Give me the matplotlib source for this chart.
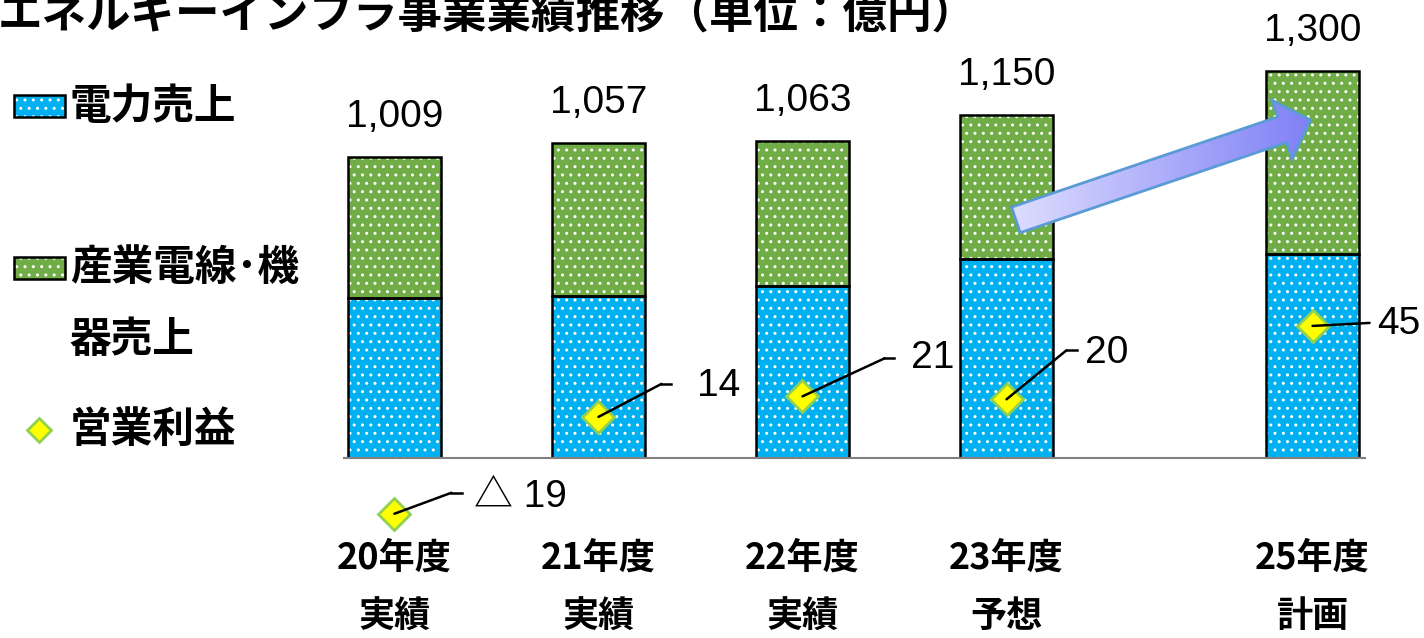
import numpy as np
import matplotlib.pyplot as plt
from matplotlib.patches import Polygon, Rectangle
from matplotlib.colors import LinearSegmentedColormap

plt.rcParams['font.family'] = ['Liberation Sans', 'DejaVu Sans']
JP = ['Noto Sans CJK JP', 'DejaVu Sans']

# 年度別データ（単位：億円）
years = ['20年度', '21年度', '22年度', '23年度', '25年度']
kinds = ['実績', '実績', '実績', '予想', '計画']
x = [0, 1, 2, 3, 4.5]
power_sales = [537, 544, 577, 668, 685]          # 電力売上
cable_sales = [472, 513, 486, 482, 615]          # 産業電線・機器売上
op_profit = [-19, 14, 21, 20, 45]                # 営業利益

totals = [p + c for p, c in zip(power_sales, cable_sales)]

BLUE = '#00B0F0'
GREEN = '#70AD47'
W, H = 1424, 638

fig = plt.figure(figsize=(W / 100, H / 100), dpi=100)
ax = fig.add_axes([344 / W, 1 - 458 / H, 1021 / W, 458 / H])
ax.set_xlim(-0.247, 4.757)
ax.set_ylim(0, 458 / 0.298)

bw = 0.455
# 塗り＋白い点模様
ax.bar(x, power_sales, bw, color=BLUE, edgecolor='white', hatch='..', linewidth=0)
ax.bar(x, cable_sales, bw, bottom=power_sales, color=GREEN, edgecolor='white',
       hatch='..', linewidth=0)
# 黒枠
ax.bar(x, power_sales, bw, fill=False, edgecolor='black', linewidth=1.8)
ax.bar(x, cable_sales, bw, bottom=power_sales, fill=False, edgecolor='black', linewidth=1.8)

for xi, t in zip(x, totals):
    ax.annotate(f'{t:,}', (xi, t), xytext=(0, 40), textcoords='offset pixels',
                ha='center', va='center', fontsize=28)

for s in ['top', 'left', 'right']:
    ax.spines[s].set_visible(False)
ax.spines['bottom'].set_color('#808080')
ax.spines['bottom'].set_linewidth(1.5)
ax.set_xticks([])
ax.set_yticks([])

for xi, yr, kd in zip(x, years, kinds):
    ax.text(xi, -0.218, yr, transform=ax.get_xaxis_transform(), ha='center', va='center',
            fontsize=26, fontweight='bold', family=JP)
    ax.text(xi, -0.347, kd, transform=ax.get_xaxis_transform(), ha='center', va='center',
            fontsize=26, fontweight='bold', family=JP)

# 営業利益（右軸）
ax2 = ax.twinx()
ax2.set_ylim(0, 458 / 2.935)
ax2.axis('off')
ax2.plot(x, op_profit, 'D', ms=16, mfc='#FFFF00', mec='#92D050', mew=2,
         clip_on=False, zorder=3)

# 引き出し線のオフセット（px）: 折れ点, 水平線の終点, 文字位置
leaders = [((57, 21), 68, (80, 17)),
           ((63, 33), 73, (99, 31)),
           ((82, 38), 92, (109, 38)),
           ((60, 49), 70, (78, 46)),
           ((57, 3), 57, (65, 2))]
for xi, v, (elbow, hend, tpos) in zip(x, op_profit, leaders):
    ax2.annotate('', (xi, v), xytext=elbow, textcoords='offset pixels',
                 annotation_clip=False,
                 arrowprops=dict(arrowstyle='-', color='black', lw=1.8,
                                 shrinkA=0, shrinkB=0), zorder=4)
    xa = ax2.transData.transform((xi, v))
    ax2.plot([xa[0] + elbow[0], xa[0] + hend], [xa[1] + elbow[1]] * 2,
             color='black', lw=1.8, transform=None, clip_on=False, zorder=4)
    label = f'△ {abs(v)}' if v < 0 else f'{v}'
    ax2.annotate(label, (xi, v), xytext=tpos, textcoords='offset pixels',
                 ha='left', va='center', fontsize=28, annotation_clip=False,
                 family=['Liberation Sans', 'Noto Sans CJK JP'])

# 上書き用の全面レイヤー（ピクセル座標）
ov = fig.add_axes([0, 0, 1, 1], zorder=5)
ov.set_xlim(0, W)
ov.set_ylim(H, 0)
ov.axis('off')
ov.patch.set_alpha(0)

# 増加を示すグラデーション矢印
fig.canvas.draw()
tail = ax.transData.transform((3.046, 799))
tip = ax.transData.transform((4.49, 1134))
tail = np.array([tail[0], H - tail[1]])
tip = np.array([tip[0], H - tip[1]])
d = tip - tail
u = d / np.hypot(*d)
n = np.array([-u[1], u[0]])
shaft_w, head_w, head_l = 27, 62, 30
base = tip - u * head_l
pts = [tail + n * shaft_w / 2, base + n * shaft_w / 2, base + n * head_w / 2, tip,
       base - n * head_w / 2, base - n * shaft_w / 2, tail - n * shaft_w / 2]
ov.add_patch(Polygon(pts, closed=True, facecolor='none', edgecolor='#5B9BD5', lw=2, zorder=7))
xs = [p[0] for p in pts]
ys = [p[1] for p in pts]
grad = np.linspace(0, 1, 256)[None, :]
cmap = LinearSegmentedColormap.from_list('arr', ['#DDDDFF', '#8080F6'])
im = ov.imshow(grad, cmap=cmap, extent=[min(xs), max(xs), max(ys), min(ys)],
               aspect='auto', zorder=6)
im.set_clip_path(Polygon(pts, closed=True, transform=ov.transData))
ov.set_xlim(0, W)
ov.set_ylim(H, 0)

# 凡例
for (y0, color) in [(95, BLUE), (257, GREEN)]:
    ov.add_patch(Rectangle((14, y0), 51, 22, facecolor=color, edgecolor='white',
                           hatch='..', linewidth=0))
    ov.add_patch(Rectangle((14, y0), 51, 22, fill=False, edgecolor='black', linewidth=1.8))
ov.plot([39], [430], 'D', ms=12, mfc='#FFFF00', mec='#92D050', mew=2)
legend_txt = [(107, '電力売上'), (268, '産業電線･機'), (340, '器売上'), (430, '営業利益')]
for yy, t in legend_txt:
    ov.text(70, yy, t, ha='left', va='center', fontsize=30, fontweight='bold', family=JP)

# タイトル
ov.text(-2, 16, 'エネルギーインフラ事業業績推移（単位：億円）', ha='left', va='center',
        fontsize=32, fontweight='bold', family=JP)

fig.savefig('out.png', dpi=100)
